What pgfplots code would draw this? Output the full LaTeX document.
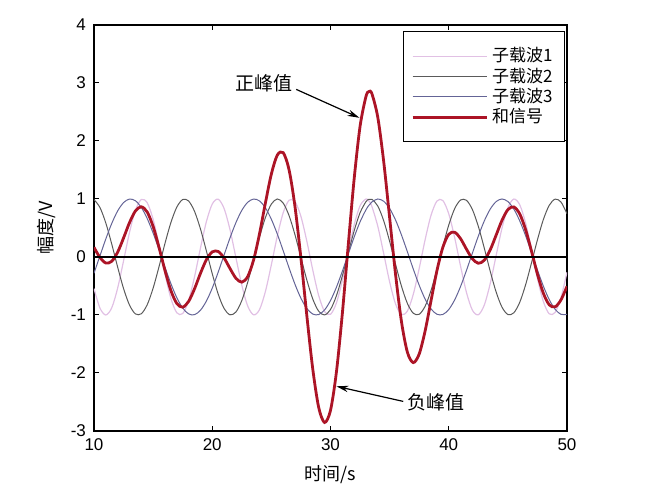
\documentclass[border=0pt]{standalone}
\usepackage{pgfplots}
\pgfplotsset{compat=1.18}
\usepackage{pgfplotstable}
\usepackage{fontspec}
\setmainfont{Liberation Sans}
\newfontfamily\cjk{Noto Sans CJK SC}
\usetikzlibrary{calc,arrows.meta}
\definecolor{subone}{RGB}{225,192,228}
\definecolor{subtwo}{RGB}{90,90,90}
\definecolor{subthree}{RGB}{100,100,150}
\definecolor{sumred}{RGB}{172,20,38}

\pgfplotstableread{
x s1 s2 s3 sum
10 -0.544 0.989 -0.279 0.166
10.5 -0.880 0.855 0.017 -0.008
11 -1.000 0.585 0.312 -0.104
11.5 -0.876 0.223 0.578 -0.074
12 -0.537 -0.174 0.794 0.083
12.5 -0.066 -0.544 0.938 0.328
13 0.420 -0.828 0.999 0.591
13.5 0.804 -0.981 0.970 0.793
14 0.991 -0.979 0.855 0.866
14.5 0.935 -0.823 0.663 0.775
15 0.650 -0.537 0.412 0.526
15.5 0.207 -0.166 0.125 0.165
16 -0.288 0.232 -0.174 -0.231
16.5 -0.712 0.592 -0.458 -0.577
17 -0.961 0.859 -0.700 -0.802
17.5 -0.976 0.991 -0.880 -0.865
18 -0.751 0.966 -0.981 -0.766
18.5 -0.343 0.788 -0.995 -0.549
19 0.150 0.486 -0.919 -0.283
19.5 0.606 0.108 -0.762 -0.049
20 0.913 -0.288 -0.537 0.088
20.5 0.997 -0.638 -0.263 0.095
21 0.837 -0.888 0.034 -0.017
21.5 0.472 -0.997 0.328 -0.198
22 -0.009 -0.949 0.592 -0.366
22.5 -0.487 -0.751 0.804 -0.434
23 -0.846 -0.435 0.944 -0.337
23.5 -0.998 -0.050 0.999 -0.048
24 -0.906 0.343 0.966 0.403
24.5 -0.591 0.682 0.846 0.936
25 -0.132 0.913 0.650 1.431
25.5 0.359 1.000 0.397 1.756
26 0.763 0.929 0.108 1.799
26.5 0.979 0.711 -0.191 1.500
27 0.956 0.381 -0.472 0.865
27.5 0.699 -0.009 -0.712 -0.021
28 0.271 -0.398 -0.888 -1.014
28.5 -0.224 -0.724 -0.984 -1.931
29 -0.664 -0.935 -0.993 -2.592
29.5 -0.941 -0.999 -0.913 -2.853
30 -0.988 -0.906 -0.751 -2.645
30.5 -0.793 -0.669 -0.522 -1.985
31 -0.404 -0.327 -0.247 -0.978
31.5 0.084 0.067 0.050 0.202
32 0.551 0.451 0.343 1.345
32.5 0.884 0.763 0.606 2.252
33 1.000 0.954 0.814 2.768
33.25 0.966 0.995 0.891 2.852
33.5 0.871 0.995 0.949 2.816
34 0.529 0.879 1.000 2.408
34.5 0.058 0.624 0.961 1.643
35 -0.428 0.271 0.837 0.679
35.5 -0.809 -0.125 0.638 -0.297
36 -0.992 -0.502 0.381 -1.112
36.5 -0.932 -0.799 0.091 -1.640
37 -0.644 -0.970 -0.207 -1.821
37.5 -0.198 -0.988 -0.487 -1.673
38 0.296 -0.850 -0.724 -1.277
38.5 0.718 -0.578 -0.895 -0.755
39 0.964 -0.214 -0.987 -0.237
39.5 0.974 0.183 -0.991 0.166
40 0.745 0.551 -0.906 0.391
40.5 0.334 0.833 -0.740 0.427
41 -0.159 0.983 -0.508 0.316
41.5 -0.613 0.977 -0.231 0.134
42 -0.917 0.818 0.067 -0.032
42.5 -0.996 0.529 0.359 -0.108
43 -0.832 0.157 0.619 -0.056
43.5 -0.464 -0.240 0.823 0.120
44 0.018 -0.599 0.954 0.373
44.5 0.495 -0.864 1.000 0.631
45 0.851 -0.992 0.956 0.816
45.5 0.999 -0.963 0.827 0.863
46 0.902 -0.783 0.624 0.744
46.5 0.584 -0.479 0.366 0.471
47 0.124 -0.099 0.074 0.099
47.5 -0.367 0.296 -0.224 -0.295
48 -0.768 0.645 -0.502 -0.625
48.5 -0.981 0.892 -0.735 -0.825
49 -0.954 0.998 -0.903 -0.859
49.5 -0.693 0.946 -0.990 -0.736
50 -0.262 0.745 -0.988 -0.505
}\data

\begin{document}
\begin{tikzpicture}
\begin{axis}[
  scale only axis,
  width=236.5pt, height=203pt,
  xmin=10, xmax=50, ymin=-3, ymax=4,
  xtick={10,20,30,40,50},
  ytick={-3,-2,-1,0,1,2,3,4},
  tick align=inside,
  major tick length=2.5pt,
  axis line style={line width=0.7pt},
  tick style={line width=0.5pt, black},
  /pgf/number format/assume math mode=true,
  tick label style={font=\fontsize{8.5}{10}\selectfont},
  xticklabel style={yshift=-0.5pt},
  yticklabel style={xshift=-0.5pt},
  xlabel={\cjk 时间/s},
  ylabel={\cjk 幅度/V},
  label style={font=\fontsize{9}{10}\selectfont},
  xlabel style={at={(axis description cs:0.5,-0.108)}, anchor=center},
  ylabel style={at={(axis description cs:-0.1,0.5)}, anchor=center},
  legend style={at={(0.996,0.985)}, anchor=north east, draw=black, line width=0.6pt,
    font=\fontsize{8.5}{10}\selectfont\cjk, cells={anchor=west},
    row sep=-2.5pt, inner xsep=4pt, inner ysep=6pt},
  legend image code/.code={\path (0pt,0pt) -- (37pt,0pt);\draw[#1] (5.5pt,0pt) -- (35.5pt,0pt);},
  clip=true,
]
\addplot[subone, line width=0.6pt, smooth] table[x=x, y=s1] {\data};
\addlegendentry{子载波1\hspace{3.5pt}}
\addplot[subtwo, line width=0.5pt, smooth] table[x=x, y=s2] {\data};
\addlegendentry{子载波2\hspace{3.5pt}}
\addplot[subthree, line width=0.5pt, smooth] table[x=x, y=s3] {\data};
\addlegendentry{子载波3\hspace{3.5pt}}
\addplot[sumred, line width=1.4pt, smooth] table[x=x, y=sum] {\data};
\addlegendentry{和信号}
\addplot[black, line width=1pt, forget plot] coordinates {(10,0) (50,0)};

\node[font=\fontsize{9.5}{10}\selectfont\cjk] at (axis cs:24.4,3.0) {正峰值};
\draw[line width=0.6pt, -{Stealth[length=6pt, width=3.2pt]}] (axis cs:27.1,2.89) -- (axis cs:32.45,2.40);
\node[font=\fontsize{9.5}{10}\selectfont\cjk] at (axis cs:38.9,-2.51) {负峰值};
\draw[line width=0.6pt, -{Stealth[length=6pt, width=3.2pt]}] (axis cs:36.15,-2.49) -- (axis cs:30.5,-2.23);
\end{axis}
\pgfresetboundingbox
\path ($(current axis.south west)+(-47pt,-34.5pt)$) rectangle ($(current axis.north east)+(46pt,12.5pt)$);
\end{tikzpicture}
\end{document}
